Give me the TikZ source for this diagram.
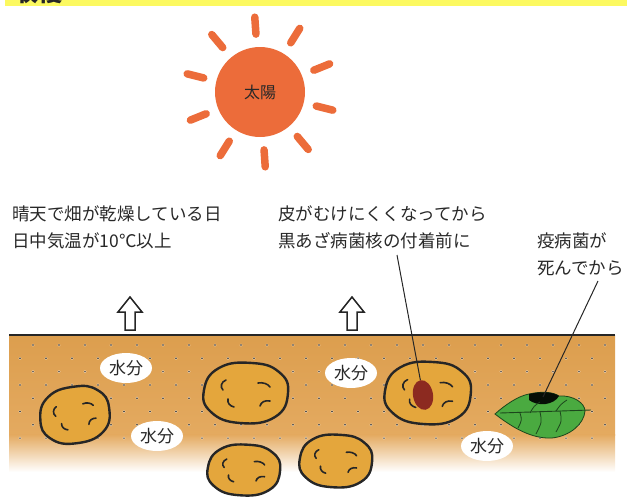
\documentclass[tikz,border=0pt]{standalone}
\usepackage{fontspec}
\setmainfont{Noto Sans CJK JP}
\usetikzlibrary{shapes.geometric,calc}

\definecolor{bannerYellow}{RGB}{252,249,96}
\definecolor{sunOrange}{RGB}{236,108,58}
\definecolor{soilTan}{RGB}{228,170,96}
\definecolor{soilTop}{RGB}{220,158,78}
\definecolor{spudFill}{RGB}{228,166,60}
\definecolor{spotRed}{RGB}{140,42,32}
\definecolor{leafGreen}{RGB}{74,170,64}
\definecolor{leafEdge}{RGB}{28,70,28}
\definecolor{inkGray}{RGB}{40,40,40}

\tikzset{
  captext/.style={anchor=west, inner sep=0pt, text=inkGray,
    font=\fontsize{17.5}{20}\selectfont},
  raystroke/.style={sunOrange, line width=7.5pt, line cap=round},
  spudline/.style={line width=2.4pt, draw=black!85, fill=spudFill},
  spudeye/.style={line width=1.6pt, line cap=round, draw=black!85},
  water/.style={ellipse, fill=white, inner sep=0pt, minimum width=52pt,
    minimum height=30pt, text=inkGray, font=\fontsize{17}{19}\selectfont},
  hollowarrow/.style={draw=black!85, line width=1.5pt, fill=white, line join=miter},
  leader/.style={line width=1pt, draw=black!85},
}

% one potato: centre x, centre y, x scale, y scale, rotation
\newcommand\spud[5]{%
  \begin{scope}[shift={(#1,#2)}, rotate=#5, xscale=#3, yscale=#4]
    \draw[spudline] plot[smooth cycle, tension=0.8] coordinates
      {(42,0) (33,-21) (6,-30) (-27,-25) (-42,-3) (-35,19) (-6,30) (29,24)};
    \draw[spudeye] (-20,-13) .. controls (-25,-11) and (-26,-6) .. (-23,-3);
    \draw[spudeye] (12,-10) .. controls (17,-11) and (22,-9) .. (24,-6);
    \draw[spudeye] (-18,6) .. controls (-19,10) and (-16,13) .. (-12,14);
    \draw[spudeye] (14,13) .. controls (15,9) and (19,7) .. (24,8);
  \end{scope}}

% hollow upward arrow centred on x
\newcommand\uparr[1]{%
  \draw[hollowarrow] (#1,297) -- (#1+12,312) -- (#1+5,312) -- (#1+5,330)
    -- (#1-5,330) -- (#1-5,312) -- (#1-12,312) -- cycle;}

\begin{document}
\begin{tikzpicture}[x=1pt, y=-1pt]
  \path[use as bounding box] (0,0) rectangle (627,496);

  % title banner
  \fill[bannerYellow] (5,0) rectangle (627,6);
  \begin{scope}
    \clip (0,0) rectangle (627,5);
    \node[anchor=base west, inner sep=0pt, font=\bfseries\fontsize{24}{24}\selectfont,
      text=black!85] (bannerTitle) at (14,1) {収穫};
  \end{scope}

  % sun
  \node[circle, fill=sunOrange, minimum size=90pt, inner sep=0pt, text=inkGray,
    font=\fontsize{16}{18}\selectfont] (sun) at (260,92) {太陽};
  \foreach \a in {94,58,22,-14,-50,-86,-122,-158,166,130}{
    \draw[raystroke] ([shift={(-\a:58)}]sun.center) -- ([shift={(-\a:75)}]sun.center);
  }

  % captions
  \node[captext] (dryday) at (12,214) {晴天で畑が乾燥している日};
  \node[captext] (warmday) at (12,241) {日中気温が10℃以上};
  \node[captext] (skin) at (278,214) {皮がむけにくくなってから};
  \node[captext] (scurf) at (278,241) {黒あざ病菌核の付着前に};
  \node[captext] (blight) at (537,241) {疫病菌が};
  \node[captext] (dead) at (537,268) {死んでから};

  % evaporation arrows
  \uparr{130}
  \uparr{352}

  % soil with fading lower edge
  \shade[top color=soilTop, bottom color=soilTan] (9,335) rectangle (615,435);
  \shade[top color=soilTan, bottom color=white] (9,434.5) rectangle (615,472);
  \foreach \r in {0,...,7}{
    \pgfmathsetmacro\yy{345+13.3*\r}
    \pgfmathsetmacro\xo{mod(\r,2)==0 ? 33 : 20}
    \foreach \c in {0,...,22}{
      \fill[white, opacity=0.6] (\xo+26*\c,\yy) circle (1.5pt);
      \fill[black!80] (\xo+26*\c,\yy) circle (0.85pt);
    }
  }
  \draw[line width=2pt, black!85] (9,335) -- (615,335);

  % potatoes
  \spud{75}{415}{0.83}{0.93}{12}
  \spud{246}{393}{1}{1}{0}
  \spud{244}{470}{0.86}{0.84}{0}
  \spud{336}{461}{0.86}{0.87}{0}
  \spud{428}{393}{1.02}{1.03}{0}
  \node[ellipse, fill=spotRed, minimum width=20pt, minimum height=30pt,
    inner sep=0pt, rotate=10] (spot) at (423,395) {};

  % moisture labels
  \node[water] (w1) at (126,368) {水分};
  \node[water] (w2) at (157,436) {水分};
  \node[water] (w3) at (351,373) {水分};
  \node[water] (w4) at (487,446) {水分};

  % leaf
  \draw[fill=leafGreen, draw=leafEdge, line width=0.8pt]
    (495,414) .. controls (505,405) and (518,396) .. (529,394)
    .. controls (542,391) and (553,392) .. (559,396)
    .. controls (573,395) and (585,403) .. (585,411)
    .. controls (584,424) and (570,436) .. (552,438)
    .. controls (532,439) and (513,428) .. (495,414) -- cycle;
  \fill[black!80!leafEdge]
    (529,394) .. controls (542,391) and (553,392) .. (559,396)
    .. controls (554,405) and (538,407) .. (529,400) -- cycle;
  \coordinate (patch) at (543,397);
  \draw[leafEdge, line width=0.9pt] (500,413) -- (591,410);
  \draw[leafEdge, line width=0.8pt] (520,413) .. controls (522,420) .. (518,428);
  \draw[leafEdge, line width=0.8pt] (540,412) .. controls (542,422) .. (536,434);
  \draw[leafEdge, line width=0.8pt] (560,411) .. controls (562,421) .. (556,432);
  \draw[leafEdge, line width=0.8pt] (530,413) .. controls (534,406) .. (540,402);
  \draw[leafEdge, line width=0.8pt] (556,411) .. controls (561,404) .. (567,400);

  % leader lines
  \coordinate (l1top) at (397,255);
  \coordinate (l2top) at (598,281);
  \draw[leader] (l1top) -- (spot.north);
  \draw[leader] (l2top) -- (patch);
\end{tikzpicture}
\end{document}
